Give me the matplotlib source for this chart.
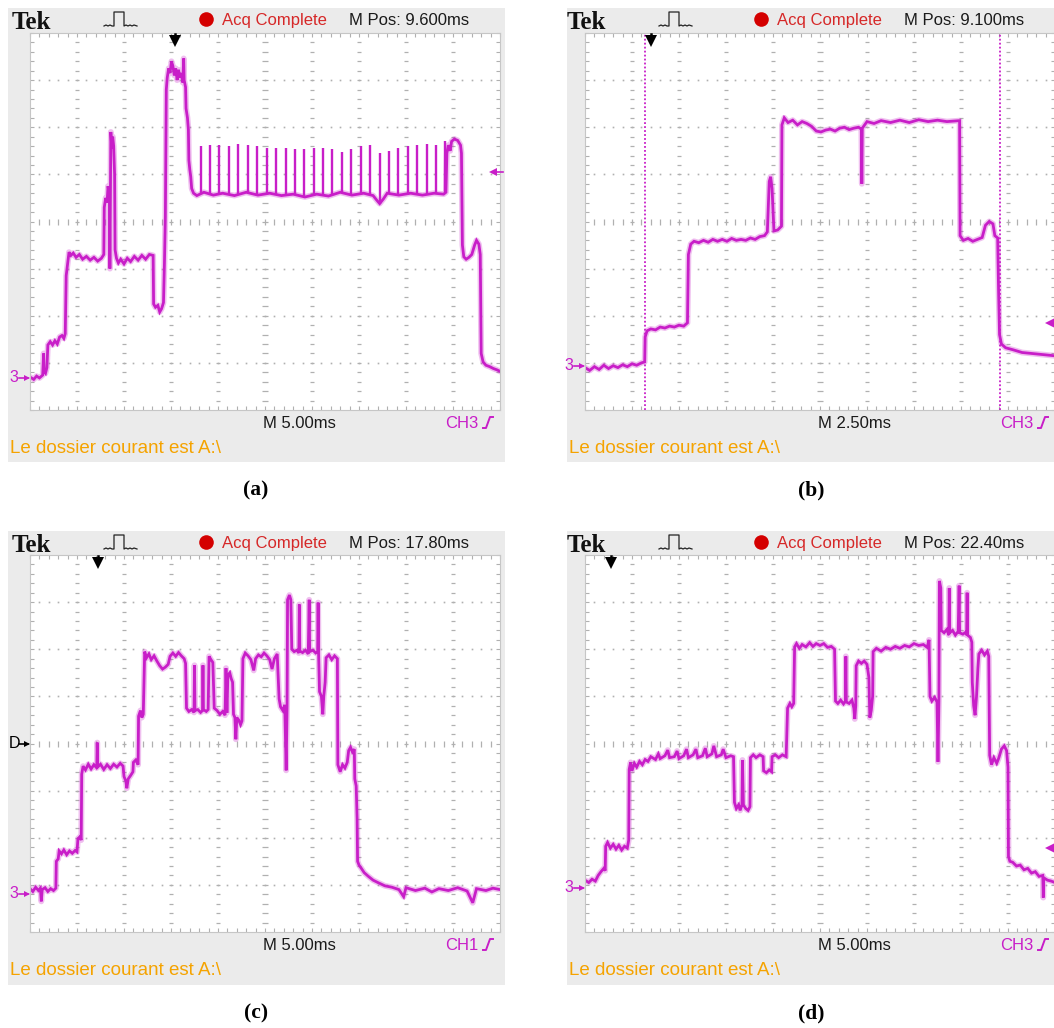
import matplotlib
matplotlib.use("Agg")
import matplotlib.pyplot as plt
import numpy as np

# Four Tek scope captures. Traces are (time, level) in screen divisions:
# time 0..10 div left to right, level 0..8 div bottom to top.
TRACE_A = [
    (0.00, 0.70), (0.08, 0.65), (0.14, 0.72), (0.20, 0.68), (0.27, 0.74),
    (0.28, 0.95), (0.29, 1.20), (0.30, 0.82), (0.33, 0.78), (0.36, 0.90),
    (0.38, 1.38), (0.43, 1.45), (0.48, 1.38), (0.53, 1.47), (0.58, 1.40), (0.63, 1.55),
    (0.68, 1.58), (0.72, 1.52), (0.75, 1.62),
    (0.77, 2.85), (0.80, 3.10), (0.83, 3.35), (0.87, 3.28), (0.92, 3.33), (0.98, 3.24),
    (1.05, 3.30), (1.12, 3.20), (1.20, 3.26), (1.28, 3.18), (1.36, 3.24), (1.44, 3.16),
    (1.52, 3.22), (1.57, 3.30),
    (1.58, 4.30), (1.61, 4.50), (1.64, 4.40), (1.66, 4.75), (1.69, 4.55), (1.70, 3.00),
    (1.71, 4.60), (1.72, 5.90), (1.74, 5.55), (1.76, 5.80), (1.78, 5.60), (1.80, 5.00),
    (1.81, 3.40), (1.84, 3.22), (1.88, 3.12), (1.93, 3.20), (2.00, 3.10), (2.07, 3.22),
    (2.14, 3.15), (2.22, 3.26), (2.30, 3.18), (2.38, 3.28), (2.46, 3.20), (2.54, 3.30),
    (2.62, 3.28),
    (2.63, 2.25), (2.67, 2.18), (2.72, 2.22), (2.76, 2.08), (2.80, 2.15), (2.84, 2.28),
    (2.86, 3.10), (2.88, 4.10), (2.90, 6.80), (2.92, 7.05), (2.95, 7.25), (2.98, 7.15),
    (3.01, 7.40), (3.04, 7.30), (3.07, 7.10), (3.10, 7.25), (3.13, 7.00), (3.16, 7.22),
    (3.19, 7.05), (3.22, 7.15), (3.25, 6.95), (3.27, 7.46), (3.28, 7.00), (3.31, 6.85),
    (3.32, 6.40), (3.35, 6.20), (3.37, 5.95), (3.38, 5.30), (3.40, 5.10), (3.42, 4.95),
    (3.44, 4.70), (3.48, 4.60), (3.55, 4.55),
    (3.70, 4.62), (3.90, 4.56), (4.10, 4.60), (4.35, 4.55), (4.60, 4.62), (4.85, 4.56),
    (5.10, 4.60), (5.35, 4.55), (5.60, 4.58), (5.85, 4.52), (6.10, 4.58), (6.35, 4.54),
    (6.60, 4.62), (6.85, 4.56), (7.10, 4.60), (7.30, 4.55), (7.38, 4.45), (7.44, 4.38),
    (7.52, 4.48), (7.60, 4.60), (7.85, 4.56), (8.10, 4.60), (8.35, 4.56), (8.60, 4.60),
    (8.80, 4.58), (8.85, 4.62),
    (8.87, 5.45), (8.90, 5.62), (8.94, 5.50), (8.97, 5.70), (9.03, 5.75), (9.10, 5.72),
    (9.16, 5.62), (9.18, 5.45),
    (9.20, 3.50), (9.23, 3.25), (9.28, 3.20), (9.34, 3.24), (9.40, 3.30), (9.46, 3.50),
    (9.50, 3.60), (9.55, 3.52), (9.58, 3.30),
    (9.60, 1.20), (9.64, 1.02), (9.70, 0.95), (9.78, 0.92), (9.86, 0.88), (9.94, 0.85),
    (10.00, 0.82),
]
SPIKES_A_T = [3.63, 3.82, 4.03, 4.23, 4.43, 4.63, 4.82, 5.04, 5.23, 5.44, 5.63, 5.83, 6.04, 6.23,
              6.43, 6.63, 6.83, 7.04, 7.24, 7.44, 7.64, 7.84, 8.04, 8.24, 8.44, 8.64, 8.84]
SPIKES_A_TOP = [5.60, 5.63, 5.63, 5.60, 5.65, 5.63, 5.60, 5.56, 5.56, 5.56, 5.53, 5.53, 5.56, 5.56,
                5.53, 5.48, 5.53, 5.60, 5.63, 5.46, 5.49, 5.56, 5.60, 5.62, 5.65, 5.63, 5.70]

TRACE_B = [
    (0.00, 0.90), (0.10, 0.84), (0.20, 0.92), (0.30, 0.86), (0.40, 0.95), (0.50, 0.88),
    (0.60, 0.94), (0.70, 0.90), (0.80, 0.96), (0.90, 0.92), (1.00, 0.98), (1.10, 0.95),
    (1.20, 1.00), (1.27, 1.02),
    (1.28, 1.55), (1.32, 1.68), (1.40, 1.72), (1.50, 1.70), (1.60, 1.76), (1.70, 1.74),
    (1.80, 1.78), (1.90, 1.76), (2.00, 1.80), (2.10, 1.78), (2.18, 1.85),
    (2.20, 3.30), (2.25, 3.52), (2.32, 3.58), (2.42, 3.55), (2.52, 3.60), (2.62, 3.56),
    (2.72, 3.62), (2.82, 3.58), (2.92, 3.62), (3.02, 3.58), (3.12, 3.64), (3.22, 3.60),
    (3.32, 3.62), (3.42, 3.60), (3.52, 3.65), (3.62, 3.62), (3.72, 3.68), (3.82, 3.70),
    (3.88, 3.78),
    (3.92, 4.85), (3.95, 4.95), (3.98, 4.70), (4.02, 3.80), (4.10, 3.82), (4.18, 3.90),
    (4.19, 6.05), (4.24, 6.20), (4.32, 6.10), (4.42, 6.15), (4.52, 6.05), (4.62, 6.12),
    (4.72, 6.08), (4.82, 6.02), (4.92, 5.92), (5.02, 5.90), (5.12, 5.94), (5.22, 5.96),
    (5.32, 5.92), (5.42, 5.98), (5.52, 6.00), (5.62, 5.95), (5.72, 5.98), (5.82, 6.00),
    (5.88, 5.96), (5.89, 4.80), (5.90, 5.98),
    (6.00, 6.12), (6.15, 6.08), (6.30, 6.14), (6.50, 6.10), (6.70, 6.15), (6.90, 6.10),
    (7.10, 6.16), (7.30, 6.12), (7.50, 6.15), (7.70, 6.12), (7.97, 6.14),
    (7.98, 3.70), (8.05, 3.60), (8.15, 3.64), (8.25, 3.58), (8.35, 3.62), (8.45, 3.66),
    (8.52, 3.92), (8.60, 4.00), (8.68, 3.95), (8.72, 3.70), (8.78, 3.65),
    (8.80, 2.50), (8.82, 1.60), (8.86, 1.40), (8.95, 1.32), (9.10, 1.28), (9.30, 1.22),
    (9.50, 1.20), (9.70, 1.18), (9.90, 1.16), (10.00, 1.15),
]
CURSORS_B = [1.28, 8.83]

TRACE_C = [
    (0.00, 0.92), (0.06, 0.86), (0.12, 0.95), (0.18, 0.88), (0.22, 0.93), (0.24, 0.65),
    (0.26, 0.90), (0.32, 0.94), (0.38, 0.86), (0.44, 0.92), (0.50, 0.88), (0.55, 0.93),
    (0.56, 1.50), (0.60, 1.55), (0.62, 1.72), (0.67, 1.66), (0.72, 1.74), (0.78, 1.64),
    (0.84, 1.72), (0.90, 1.67), (0.96, 1.73), (1.00, 1.70),
    (1.02, 1.98), (1.06, 2.02), (1.09, 1.95),
    (1.10, 3.35), (1.13, 3.52), (1.18, 3.44), (1.24, 3.56), (1.30, 3.46), (1.36, 3.55),
    (1.42, 3.48), (1.43, 4.02), (1.44, 3.50), (1.50, 3.56), (1.57, 3.45), (1.64, 3.55),
    (1.71, 3.47), (1.78, 3.56), (1.85, 3.50), (1.92, 3.58), (1.98, 3.52),
    (2.00, 3.30), (2.04, 3.20), (2.06, 3.05), (2.09, 3.25), (2.14, 3.32), (2.19, 3.40),
    (2.20, 3.60), (2.25, 3.65), (2.30, 3.55),
    (2.31, 4.58), (2.35, 4.70), (2.38, 4.55), (2.41, 4.62),
    (2.44, 5.95), (2.48, 5.82), (2.53, 5.90), (2.58, 5.78), (2.64, 5.86), (2.70, 5.75),
    (2.76, 5.65), (2.82, 5.58), (2.88, 5.62), (2.94, 5.68), (2.98, 5.85), (3.04, 5.92),
    (3.10, 5.85), (3.16, 5.93), (3.22, 5.86), (3.28, 5.80), (3.31, 5.70),
    (3.33, 4.75), (3.38, 4.68), (3.44, 4.72), (3.49, 4.66), (3.50, 5.66), (3.51, 4.70),
    (3.57, 4.72), (3.63, 4.66), (3.67, 4.70), (3.68, 5.66), (3.69, 4.72), (3.75, 4.68),
    (3.79, 4.72),
    (3.81, 5.85), (3.85, 5.78), (3.89, 5.72),
    (3.92, 4.75), (3.98, 4.70), (4.04, 4.62), (4.10, 4.68), (4.15, 4.60), (4.17, 5.60),
    (4.19, 4.65),
    (4.21, 5.45), (4.25, 5.50), (4.28, 5.38), (4.31, 5.30),
    (4.33, 4.62), (4.36, 4.55), (4.38, 4.09), (4.40, 4.55), (4.44, 4.50), (4.48, 4.40),
    (4.51, 4.48),
    (4.53, 5.80), (4.58, 5.92), (4.64, 5.86), (4.70, 5.78), (4.76, 5.55), (4.80, 5.80),
    (4.86, 5.88), (4.92, 5.84), (4.98, 5.92), (5.04, 5.86), (5.10, 5.78), (5.15, 5.58),
    (5.20, 5.80), (5.26, 5.90),
    (5.30, 4.95), (5.33, 4.78), (5.38, 4.70), (5.42, 4.82), (5.45, 3.43), (5.47, 4.80),
    (5.48, 7.05), (5.52, 7.15), (5.55, 7.05), (5.57, 6.00), (5.62, 5.95), (5.68, 5.98),
    (5.72, 5.92), (5.73, 6.95), (5.74, 5.96), (5.80, 5.93), (5.86, 5.98), (5.92, 5.90),
    (5.94, 7.05), (5.95, 5.95), (6.02, 5.98), (6.08, 5.92), (6.12, 5.95), (6.13, 6.99),
    (6.14, 5.90),
    (6.16, 5.10), (6.20, 5.00), (6.23, 4.62), (6.25, 5.00), (6.28, 5.30),
    (6.30, 5.82), (6.36, 5.88), (6.42, 5.78), (6.48, 5.86), (6.54, 5.80),
    (6.55, 3.55), (6.60, 3.40), (6.65, 3.55), (6.70, 3.48), (6.75, 3.60),
    (6.78, 3.85), (6.82, 3.92), (6.86, 3.82), (6.90, 3.88),
    (6.91, 3.25), (6.94, 3.10), (6.96, 2.40), (6.97, 1.50), (7.00, 1.42), (7.05, 1.35),
    (7.11, 1.26), (7.20, 1.18), (7.30, 1.10), (7.40, 1.05), (7.55, 0.98), (7.70, 0.95),
    (7.85, 0.90), (7.95, 0.75), (8.00, 0.94), (8.20, 0.88), (8.40, 0.93), (8.55, 0.85),
    (8.70, 0.92), (8.90, 0.88), (9.10, 0.94), (9.30, 0.87), (9.42, 0.62), (9.50, 0.92),
    (9.70, 0.88), (9.85, 0.93), (10.00, 0.90),
]

TRACE_D = [
    (0.00, 1.10), (0.08, 1.05), (0.15, 1.12), (0.22, 1.08), (0.28, 1.20), (0.34, 1.28),
    (0.40, 1.35), (0.43, 1.30),
    (0.44, 1.82), (0.48, 1.90), (0.54, 1.78), (0.60, 1.86), (0.66, 1.76), (0.72, 1.84),
    (0.78, 1.74), (0.84, 1.82), (0.90, 1.78), (0.93, 1.95),
    (0.94, 3.45), (0.97, 3.60), (1.00, 3.42), (1.05, 3.58), (1.10, 3.50), (1.16, 3.62),
    (1.22, 3.55), (1.28, 3.66), (1.34, 3.62), (1.40, 3.72), (1.50, 3.66), (1.56, 3.78),
    (1.60, 3.68), (1.70, 3.74), (1.76, 3.86), (1.80, 3.70), (1.90, 3.72), (1.96, 3.84),
    (2.00, 3.68), (2.10, 3.74), (2.16, 3.88), (2.20, 3.70), (2.30, 3.76), (2.36, 3.88),
    (2.40, 3.70), (2.50, 3.74), (2.56, 3.90), (2.60, 3.72), (2.70, 3.78), (2.74, 3.95),
    (2.80, 3.72), (2.90, 3.76), (2.94, 3.88), (3.00, 3.70), (3.10, 3.74), (3.16, 3.72),
    (3.18, 2.75), (3.22, 2.62), (3.27, 2.70), (3.30, 2.58), (3.34, 2.70), (3.35, 3.65),
    (3.37, 2.70), (3.42, 2.62), (3.47, 2.58), (3.51, 2.66),
    (3.52, 3.70), (3.58, 3.76), (3.64, 3.70), (3.72, 3.76), (3.79, 3.72),
    (3.80, 3.42), (3.86, 3.38), (3.92, 3.44), (3.97, 3.40),
    (3.98, 3.72), (4.05, 3.76), (4.12, 3.70), (4.20, 3.76), (4.28, 3.72),
    (4.31, 4.75), (4.36, 4.85), (4.40, 4.78), (4.44, 4.85),
    (4.46, 6.05), (4.50, 6.12), (4.56, 6.02), (4.62, 6.10), (4.70, 6.05), (4.78, 6.14),
    (4.85, 6.06), (4.92, 6.12), (5.00, 6.08), (5.08, 6.12), (5.16, 6.04), (5.24, 6.06),
    (5.31, 6.00),
    (5.33, 4.90), (5.38, 4.85), (5.44, 4.92), (5.50, 4.84), (5.54, 4.90), (5.55, 5.85),
    (5.56, 4.88), (5.62, 4.85), (5.68, 4.92), (5.72, 4.75), (5.74, 4.52), (5.76, 4.80),
    (5.77, 5.65), (5.82, 5.75), (5.88, 5.70), (5.94, 5.75), (6.00, 5.68), (6.04, 5.40),
    (6.06, 4.55), (6.09, 4.70), (6.12, 5.00),
    (6.13, 5.95), (6.20, 6.02), (6.30, 5.96), (6.40, 6.04), (6.50, 6.00), (6.60, 6.06),
    (6.70, 6.02), (6.80, 6.08), (6.90, 6.05), (7.00, 6.12), (7.10, 6.08), (7.20, 6.10),
    (7.28, 6.04), (7.32, 6.20),
    (7.34, 5.00), (7.38, 4.90), (7.44, 4.98), (7.49, 4.88), (7.51, 3.61), (7.53, 4.90),
    (7.54, 7.45), (7.57, 7.30), (7.58, 6.40), (7.64, 6.35), (7.70, 6.42), (7.74, 6.30),
    (7.75, 7.30), (7.76, 6.35), (7.82, 6.40), (7.88, 6.30), (7.94, 6.38), (7.96, 7.35),
    (7.97, 6.35), (8.04, 6.32), (8.10, 6.36), (8.12, 6.30), (8.13, 7.20), (8.14, 6.30),
    (8.20, 6.25), (8.23, 6.15),
    (8.24, 5.30), (8.27, 4.80), (8.30, 4.60), (8.33, 5.00), (8.36, 5.60),
    (8.38, 5.90), (8.44, 5.98), (8.50, 5.88), (8.56, 5.96), (8.59, 5.85),
    (8.61, 3.75), (8.65, 3.55), (8.70, 3.70), (8.76, 3.58), (8.80, 3.68), (8.86, 3.88),
    (8.92, 3.95), (8.97, 3.85), (9.00, 3.50),
    (9.01, 1.60), (9.04, 1.50), (9.10, 1.48), (9.18, 1.40), (9.26, 1.42), (9.34, 1.32),
    (9.42, 1.35), (9.50, 1.25), (9.58, 1.28), (9.66, 1.18), (9.74, 1.20), (9.75, 0.73),
    (9.76, 1.15), (9.84, 1.10), (9.92, 1.08), (10.00, 1.05),
]

# header / footer readouts
M_POS = ["9.600ms", "9.100ms", "17.80ms", "22.40ms"]
TIMEBASE = ["M 5.00ms", "M 2.50ms", "M 5.00ms", "M 5.00ms"]
CHANNEL = ["CH3", "CH3", "CH1", "CH3"]
CAPTIONS = ["(a)", "(b)", "(c)", "(d)"]
TRIG_POS = [3.09, 1.40, 1.45, 0.55]          # trigger-position arrow, div
GROUND = [0.68, 0.94, 0.81, 0.94]            # "3" reference marker, div
TRIG_LEVEL = [5.04, 1.85, None, 1.79]        # right-hand trigger level marker, div

W, H = 1054, 1028
MAGENTA = "#c81ec8"
GRAYBG = "#ebebeb"
GRIDC = "#b0b0b0"
SANS = ["Liberation Sans", "DejaVu Sans"]
SERIF = ["Liberation Serif", "DejaVu Serif"]

# frame box and graticule box in pixels (x0, y0, x1, y1), y from top
FRAMES = [(8, 8, 505, 462), (567, 8, 1062, 462), (8, 531, 505, 985), (567, 531, 1062, 985)]
GRATS = [(30, 33, 500, 410), (585, 33, 1055, 410), (30, 555, 500, 932), (585, 555, 1055, 932)]
CAPTION_X = [256, 811, 256, 811]

fig = plt.figure(figsize=(W / 100, H / 100), dpi=100)
fig.patch.set_facecolor("white")

bg = fig.add_axes([0, 0, 1, 1], zorder=0)
fg = fig.add_axes([0, 0, 1, 1], zorder=5)
for a in (bg, fg):
    a.set_xlim(0, W)
    a.set_ylim(H, 0)
    a.axis("off")
    a.patch.set_alpha(0)


def graticule(box):
    x0, y0, x1, y1 = box
    ax = fig.add_axes([x0 / W, 1 - y1 / H, (x1 - x0) / W, (y1 - y0) / H], zorder=2)
    ax.set_xlim(0, 10)
    ax.set_ylim(0, 8)
    ax.set_facecolor("white")
    for s in ax.spines.values():
        s.set_color("#c6c6c6")
        s.set_linewidth(0.8)
    ax.set_xticks([])
    ax.set_yticks([])
    ax.set_xticks(np.arange(0, 10.01, 0.2), minor=True)
    ax.set_yticks(np.arange(0, 8.01, 0.2), minor=True)
    ax.tick_params(which="minor", direction="in", length=3, width=0.8, color=GRIDC,
                   top=True, right=True, labelbottom=False, labelleft=False)
    ys = np.arange(0.2, 8.0, 0.2)
    xs = np.arange(0.2, 10.0, 0.2)
    for gx in range(1, 10):
        ms = 5 if gx == 5 else 3
        ax.plot(np.full_like(ys, gx), ys, ls="none", marker="_", ms=ms, mew=0.9, color=GRIDC)
    for gy in range(1, 8):
        if gy == 4:
            ax.plot(xs, np.full_like(xs, gy), ls="none", marker="|", ms=4, mew=0.9, color=GRIDC)
        else:
            ax.plot(xs, np.full_like(xs, gy), ls="none", marker="s", ms=1.2, mew=0, color=GRIDC)
    return ax


traces = [TRACE_A, TRACE_B, TRACE_C, TRACE_D]

for i in range(4):
    fx0, fy0, fx1, fy1 = FRAMES[i]
    gx0, gy0, gx1, gy1 = GRATS[i]
    bg.add_patch(plt.Rectangle((fx0, fy0), fx1 - fx0, fy1 - fy0, color=GRAYBG, lw=0))

    ax = graticule(GRATS[i])
    t, v = np.array(traces[i]).T
    # soft halo first, so the jpeg-ish fuzz of the captured trace shows through
    ax.plot(t, v, color=MAGENTA, lw=4.2, alpha=0.28, solid_joinstyle="round")
    ax.plot(t, v, color=MAGENTA, lw=2.0, solid_joinstyle="miter")
    if i == 0:
        base = np.interp(SPIKES_A_T, t, v)
        ax.vlines(SPIKES_A_T, base, SPIKES_A_TOP, color=MAGENTA, lw=1.7)
    if i == 1:
        for cx in CURSORS_B:
            ax.axvline(cx, color=MAGENTA, lw=1.3, ls=(0, (1, 1.2)))

    def px(tdiv):
        return gx0 + (gx1 - gx0) * tdiv / 10

    def py(vdiv):
        return gy1 - (gy1 - gy0) * vdiv / 8

    # header
    fg.text(gx0 - 18, fy0 + 21, "Tek", family=SERIF, weight="bold", fontsize=18,
            color="#111111", va="baseline")
    ix, iy = gx0 + 74, fy0 + 18
    icon_x = [0, 2, 4, 6, 8, 10, 10, 20, 20, 22, 24, 26, 28, 30, 33]
    icon_y = [0, -1, 0, -1, 0, 0, -14, -14, 0, -1, 0, -1, 0, -1, 0]
    fg.plot(np.array(icon_x) + ix, np.array(icon_y) + iy, color="#222222", lw=0.9)
    fg.plot(gx0 + 176, fy0 + 11, "o", ms=10.5, color="#d40000", mew=0)
    fg.text(gx0 + 192, fy0 + 17, "Acq Complete", family=SANS, fontsize=12,
            color="#d62828", va="baseline")
    fg.text(gx0 + 319, fy0 + 17, "M Pos: " + M_POS[i], family=SANS, fontsize=12,
            color="#1a1a1a", va="baseline")

    # footer
    fg.text(gx0 + 233, gy1 + 18, TIMEBASE[i], family=SANS, fontsize=12,
            color="#1a1a1a", va="baseline")
    fg.text(gx0 + 415, gy1 + 18, CHANNEL[i], family=SANS, fontsize=12,
            color=MAGENTA, va="baseline")
    sx, sy = gx0 + 453, gy1 + 18
    fg.plot([sx, sx + 3, sx + 7, sx + 10], [sy, sy, sy - 11, sy - 11], color=MAGENTA, lw=1.4)
    fg.text(fx0 + 2, gy1 + 43, "Le dossier courant est A:\\", family=SANS, fontsize=13.5,
            color="#f5a300", va="baseline")

    # trigger position arrow
    tx = px(TRIG_POS[i])
    fg.plot([tx, tx], [gy0 + 1, gy0 + 6], color="black", lw=1.8)
    fg.plot(tx, gy0 + 8, marker="v", ms=8, color="black", mew=0)

    # ground reference marker
    gyp = py(GROUND[i])
    fg.text(gx0 - 16, gyp, "3", family=SANS, fontsize=11.5, color=MAGENTA,
            ha="center", va="center")
    fg.plot([gx0 - 11, gx0 - 2], [gyp, gyp], color=MAGENTA, lw=1.2)
    fg.plot(gx0 - 3, gyp, marker=">", ms=5, color=MAGENTA, mew=0)
    if i == 2:
        cy = py(4.0)
        fg.text(gx0 - 16, cy, "D", family=SANS, fontsize=11.5, color="black",
                ha="center", va="center")
        fg.plot([gx0 - 11, gx0 - 2], [cy, cy], color="black", lw=1.2)
        fg.plot(gx0 - 3, cy, marker=">", ms=5, color="black", mew=0)

    # trigger level marker on the right
    if TRIG_LEVEL[i] is not None:
        ty = py(TRIG_LEVEL[i])
        if i == 0:
            fg.plot([gx1 - 7, gx1 + 3], [ty, ty], color=MAGENTA, lw=1.2)
            fg.plot(gx1 - 7, ty, marker="<", ms=6, color=MAGENTA, mew=0)
        else:
            fg.plot(W - 3, ty, marker="<", ms=9, color=MAGENTA, mew=0)

    # caption
    fg.text(CAPTION_X[i], fy1 + 28, CAPTIONS[i], family=SERIF, weight="bold",
            fontsize=15.5, color="black", ha="center", va="center")

fig.savefig("out.png", dpi=100)
